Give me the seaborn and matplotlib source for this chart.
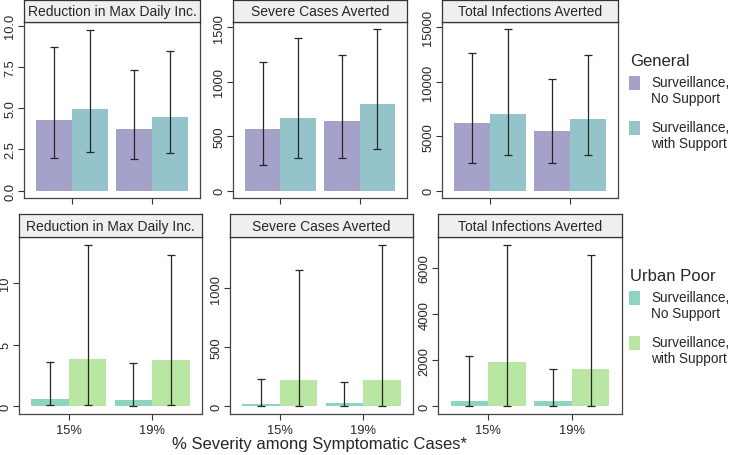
import pandas as pd
import numpy as np
import matplotlib
matplotlib.use("Agg")
import matplotlib.pyplot as plt
from matplotlib.patches import Rectangle
import seaborn as sns

sns.set_style("white")
plt.rcParams["font.family"] = ["Liberation Sans", "DejaVu Sans"]

W, H = 730, 456

severity = ["15%", "19%"]
strategies = ["Surveillance,\nNo Support", "Surveillance,\nwith Support"]
metrics = ["Reduction in Max Daily Inc.", "Severe Cases Averted", "Total Infections Averted"]

# order of values: (no support 15%, no support 19%, with support 15%, with support 19%)
gen_maxinc = [4.30, 3.74, 4.95, 4.48]
gen_maxinc_lo = [1.98, 1.90, 2.36, 2.30]
gen_maxinc_hi = [8.69, 7.31, 9.76, 8.47]
gen_severe = [566, 643, 667, 799]
gen_severe_lo = [236, 297, 297, 380]
gen_severe_hi = [1184, 1243, 1402, 1482]
gen_total = [6215, 5480, 7040, 6582]
gen_total_lo = [2570, 2543, 3277, 3277]
gen_total_hi = [12614, 10282, 14817, 12491]

urb_maxinc = [0.59, 0.49, 3.83, 3.75]
urb_maxinc_lo = [0.08, 0.05, 0.08, 0.08]
urb_maxinc_hi = [3.61, 3.53, 13.05, 12.27]
urb_severe = [22, 28, 223, 225]
urb_severe_lo = [3, 3, 3, 3]
urb_severe_hi = [229, 206, 1155, 1367]
urb_total = [243, 243, 1923, 1632]
urb_total_lo = [20, 20, 20, 20]
urb_total_hi = [2170, 1632, 7000, 6567]

gen_colors = ["#A5A2CA", "#94C4C9"]
urb_colors = ["#8ED5C1", "#BAE6A4"]

gen_ticks = [[0, 2.5, 5, 7.5, 10], [0, 500, 1000, 1500], [0, 5000, 10000, 15000]]
gen_ticklabels = [["0.0", "2.5", "5.0", "7.5", "10.0"], None, None]
urb_ticks = [[0, 5, 10], [0, 500, 1000], [0, 2000, 4000, 6000]]


def make_df(mean, lo, hi):
    rows = []
    i = 0
    for s in strategies:
        for sev in severity:
            rows.append({"severity": sev, "strategy": s, "value": mean[i], "lo": lo[i], "hi": hi[i]})
            i += 1
    return pd.DataFrame(rows)


def px_axes(fig, x0, y0, x1, y1):
    return fig.add_axes([x0 / W, 1 - y1 / H, (x1 - x0) / W, (y1 - y0) / H])


def draw_panel(fig, box, strip_top, title, df, colors, ticks, ticklabels, ylim, show_xlabels):
    x0, y0, x1, y1 = box
    ax = px_axes(fig, x0, y0, x1, y1)
    sns.barplot(data=df, x="severity", y="value", hue="strategy", order=severity,
                hue_order=strategies, palette=colors, errorbar=None, width=0.9, gap=0,
                saturation=1, legend=False, edgecolor="none", ax=ax)
    for container, s in zip(ax.containers, strategies):
        for bar, sev in zip(container, severity):
            r = df[(df.strategy == s) & (df.severity == sev)].iloc[0]
            xc = bar.get_x() + bar.get_width() / 2
            ax.errorbar([xc], [r.value], yerr=[[r.value - r.lo], [r.hi - r.value]], fmt="none",
                        ecolor="#262626", elinewidth=0.9, capsize=3, capthick=0.9)
    ax.set_xlim(-0.6, 1.6)
    ax.set_ylim(*ylim)
    ax.set_yticks(ticks)
    if ticklabels is not None:
        ax.set_yticklabels(ticklabels)
    for lab in ax.get_yticklabels():
        lab.set_rotation(90)
        lab.set_va("center")
    ax.set_xlabel("")
    ax.set_ylabel("")
    if not show_xlabels:
        ax.set_xticklabels([])
    ax.tick_params(axis="both", direction="out", length=4.5, width=0.8, color="#333333",
                   labelsize=9.3, pad=1, bottom=True, left=True)
    ax.tick_params(axis="x", pad=2.5)
    for sp in ax.spines.values():
        sp.set_color("#444444")
        sp.set_linewidth(0.9)

    st = px_axes(fig, x0, strip_top, x1, y0)
    st.set_facecolor("#EFEFEF")
    st.set_xticks([])
    st.set_yticks([])
    for sp in st.spines.values():
        sp.set_color("#333333")
        sp.set_linewidth(0.9)
    st.text(0.5, 0.48, title, ha="center", va="center", fontsize=10, transform=st.transAxes)
    return ax


def draw_key(fig, title, colors, y_title):
    # hand-placed key, same layout as the original figure
    fig.text(630 / W, 1 - y_title / H, title, ha="left", va="center", fontsize=12)
    for k, (c, lab) in enumerate(zip(colors, strategies)):
        ytop = y_title + 15 + k * 45
        fig.add_artist(Rectangle((629 / W, 1 - (ytop + 14) / H), 11 / W, 14 / H,
                                 facecolor=c, edgecolor="none", transform=fig.transFigure))
        fig.text(651 / W, 1 - (ytop - 1) / H, lab, ha="left", va="top", fontsize=9.8,
                 linespacing=1.17)


fig = plt.figure(figsize=(W / 100, H / 100), dpi=100)

gen_data = [(gen_maxinc, gen_maxinc_lo, gen_maxinc_hi),
            (gen_severe, gen_severe_lo, gen_severe_hi),
            (gen_total, gen_total_lo, gen_total_hi)]
urb_data = [(urb_maxinc, urb_maxinc_lo, urb_maxinc_hi),
            (urb_severe, urb_severe_lo, urb_severe_hi),
            (urb_total, urb_total_lo, urb_total_hi)]

top_boxes = [(24, 23, 200, 199), (233, 23, 407, 199), (442, 23, 618, 199)]
bot_boxes = [(19, 238, 202, 415), (230, 238, 413, 415), (438, 238, 622, 415)]
gen_ylims = [(-0.44, 10.22), (-67, 1549), (-670, 15487)]
urb_ylims = [(-0.62, 13.7), (-65, 1435), (-334, 7348)]

for i in range(3):
    draw_panel(fig, top_boxes[i], 1, metrics[i], make_df(*gen_data[i]), gen_colors,
               gen_ticks[i], gen_ticklabels[i], gen_ylims[i], False)
    draw_panel(fig, bot_boxes[i], 215, metrics[i], make_df(*urb_data[i]), urb_colors,
               urb_ticks[i], None, urb_ylims[i], True)

draw_key(fig, "General", gen_colors, 62)
draw_key(fig, "Urban Poor", urb_colors, 277)

fig.text(320 / W, 1 - 445 / H, "% Severity among Symptomatic Cases*", ha="center", va="center", fontsize=12)

fig.savefig("out.png", dpi=100)
